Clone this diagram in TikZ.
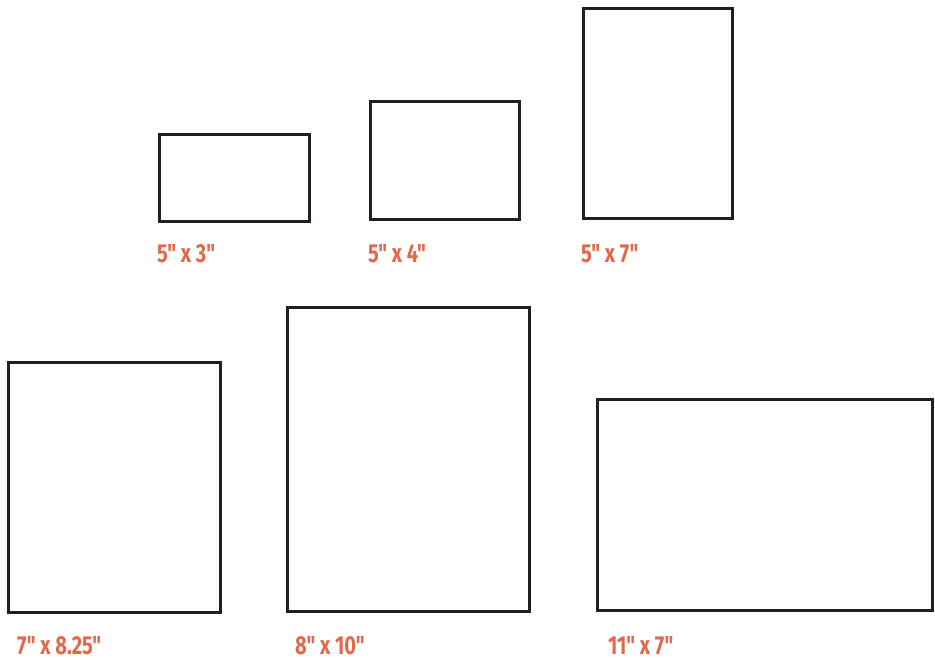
\documentclass[tikz,border=0pt]{standalone}
\usepackage{fontspec}
\newfontfamily\sizefont[FakeStretch=0.77]{Fira Sans}
\usepackage{tikz}
\usetikzlibrary{positioning}
\definecolor{sizeorange}{HTML}{E0694A}
\definecolor{framegray}{HTML}{231F20}

\begin{document}
\begin{tikzpicture}[x=1pt, y=-1pt,
frame/.style={rectangle, draw=framegray, line width=3pt, fill=white, inner sep=0pt},
size/.style={anchor=base west, inner sep=0pt, text=sizeorange, font=\sizefont\bfseries\fontsize{26}{26}\selectfont}
]
\useasboundingbox (0,0) rectangle (935,660);
\node[frame, minimum width=150pt, minimum height=87pt] (f53) at (234.5,178) {};
\node[frame, minimum width=149pt, minimum height=118pt] (f54) at (445,160.5) {};
\node[frame, minimum width=149pt, minimum height=210pt] (f57) at (658,113.5) {};
\node[frame, minimum width=212pt, minimum height=250pt] (f7825) at (114.5,487.5) {};
\node[frame, minimum width=242pt, minimum height=304pt] (f810) at (408.5,459.5) {};
\node[frame, minimum width=335pt, minimum height=211pt] (f117) at (765,505) {};
\node[size] (l53) at (157,263) {5" x 3"};
\node[size] (l54) at (368,263) {5" x 4"};
\node[size] (l57) at (581,263) {5" x 7"};
\node[size] (l7825) at (17,654) {7" x 8.25"};
\node[size] (l810) at (295,654) {8" x 10"};
\node[size] (l117) at (608,654) {11" x 7"};
\end{tikzpicture}
\end{document}
